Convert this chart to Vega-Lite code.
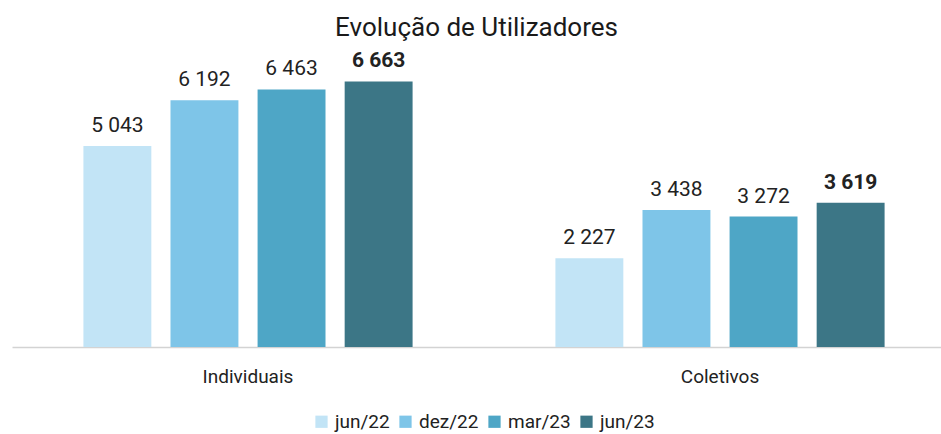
{
  "$schema": "https://vega.github.io/schema/vega-lite/v6.json",
  "autosize": "none",
  "width": 929,
  "height": 287,
  "padding": {"left": 12, "top": 60, "right": 0, "bottom": 87},
  "background": "white",
  "title": {"text": "Evolução de Utilizadores", "fontSize": 26, "font": "Roboto, sans-serif", "fontWeight": "normal", "color": "#1a1a1a", "offset": 9, "anchor": "middle"},
  "config": {"view": {"stroke": null}, "font": "Roboto, sans-serif"},
  "data": {"values": [
    {"grupo": "Individuais", "periodo": "jun/22", "v": 5043},
    {"grupo": "Individuais", "periodo": "dez/22", "v": 6192},
    {"grupo": "Individuais", "periodo": "mar/23", "v": 6463},
    {"grupo": "Individuais", "periodo": "jun/23", "v": 6663},
    {"grupo": "Coletivos", "periodo": "jun/22", "v": 2227},
    {"grupo": "Coletivos", "periodo": "dez/22", "v": 3438},
    {"grupo": "Coletivos", "periodo": "mar/23", "v": 3272},
    {"grupo": "Coletivos", "periodo": "jun/23", "v": 3619}
  ]},
  "transform": [{"calculate": "replace(format(datum.v, ','), ',', ' ')", "as": "lbl"}],
  "encoding": {
    "x": {"field": "grupo", "type": "nominal", "sort": ["Individuais", "Coletivos"], "scale": {"paddingInner": 0, "paddingOuter": 0, "range": [0, 944]},
      "axis": {"title": null, "labelAngle": 0, "labelFontSize": 19, "labelColor": "#222222", "labelPadding": 20, "ticks": false, "domainColor": "#d3d3d3", "domainWidth": 1.5}},
    "xOffset": {"field": "periodo", "type": "nominal", "sort": ["jun/22", "dez/22", "mar/23", "jun/23"], "scale": {"paddingInner": 0.22, "paddingOuter": 0.82}},
    "y": {"field": "v", "type": "quantitative", "scale": {"domain": [0, 7200]}, "axis": null}
  },
  "layer": [
    {"mark": {"type": "bar"},
     "encoding": {"color": {"field": "periodo", "type": "nominal", "sort": ["jun/22", "dez/22", "mar/23", "jun/23"],
       "scale": {"domain": ["jun/22", "dez/22", "mar/23", "jun/23"], "range": ["#c2e4f6", "#7ec5e8", "#4ea6c6", "#3c7686"]},
       "legend": {"title": null, "orient": "none", "legendX": 300, "legendY": 352, "direction": "horizontal", "symbolType": "square", "symbolSize": 150, "symbolStrokeWidth": 0, "labelFontSize": 19, "labelOffset": 4, "labelColor": "#222222", "columnPadding": 6}}}},
    {"transform": [{"filter": "datum.periodo != 'jun/23'"}],
     "mark": {"type": "text", "baseline": "bottom", "dy": -10, "fontSize": 21, "color": "#222222"},
     "encoding": {"text": {"field": "lbl"}}},
    {"transform": [{"filter": "datum.periodo == 'jun/23'"}],
     "mark": {"type": "text", "baseline": "bottom", "dy": -10, "fontSize": 21, "fontWeight": "bold", "color": "#222222"},
     "encoding": {"text": {"field": "lbl"}}}
  ]
}
